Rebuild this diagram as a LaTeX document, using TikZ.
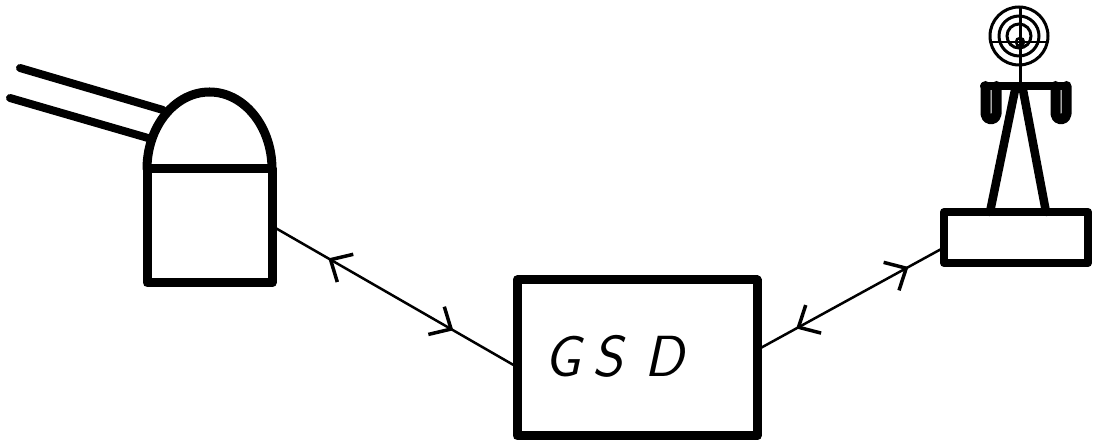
\documentclass[tikz,border=0pt]{standalone}
\usepackage{tikz}
\usetikzlibrary{math, calc, arrows.meta, decorations.markings}

\tikzset{
    heavy/.style={line width=9pt, line cap=round, line join=round},
    block/.style={draw, line width=9pt, line join=round, inner sep=0pt, outer sep=0pt},
    barb/.tip={Straight Barb[length=17pt, width=32pt, line width=3.5pt]},
    link/.style 2 args={line width=2.5pt, postaction={decorate},
        decoration={markings,
            mark=at position #1 with {\arrowreversed{barb}},
            mark=at position #2 with {\arrow{barb}}}},
}

\begin{document}
\begin{tikzpicture}[x=1pt, y=1pt]
    \tikzmath{
        \domerx=62.5;
        \domery=77;
        \barY=360;
    }
    \useasboundingbox (0, 0) rectangle (1093, 446);

    % telescope
    \draw [heavy, line width=8pt] (20, 378) -- (163, 336);
    \draw [heavy, line width=8pt] (10, 348) -- (148, 308);
    \draw [heavy, fill=white] (147, 277)
        arc [start angle=180, end angle=0, x radius=\domerx, y radius=\domery];
    \node [block, minimum width=125pt, minimum height=114pt] (telbody) at (209.5, 220) {};

    % ground station
    \node [block, minimum width=240pt, minimum height=156pt] (gsd) at (637, 88) {};
    \node [font=\fontsize{58}{58}\sffamily\slshape] (gsdlabel) at (614, 90) {G\hspace{12pt}S\hspace{22pt}D};

    % antenna
    \node [block, line width=8pt, minimum width=144pt, minimum height=51pt] (base) at (1016, 208.5) {};
    \draw [heavy, line width=8.5pt] (1015, \barY-4) -- (990, 234);
    \draw [heavy, line width=8.5pt] (1023, \barY-4) -- (1046, 234);
    \draw [heavy, line width=8pt] (984, \barY) -- (1066, \barY);
    \draw [heavy, line width=10pt] (985.5, \barY) -- (985.5, 332) arc [start angle=180, end angle=360, radius=5.5] -- (996.5, \barY);
    \draw [heavy, line width=10pt] (1055.5, \barY) -- (1055.5, 332) arc [start angle=180, end angle=360, radius=5.5] -- (1066.5, \barY);
    \draw [line width=3pt] (1020, \barY) -- (1020, 438);
    \foreach \r in {29, 20, 12} {
        \draw [line width=3pt] (1019, 410) circle [radius=\r];
    }
    \draw [line width=2.5pt] (1020, 404) circle [radius=4];
    \draw [line width=2.5pt] (990, 404) -- (1048, 404);

    % links
    \draw [link={0.23}{0.74}] (telbody.east) -- ($ (gsd.west) + (0, -9) $);
    \draw [link={0.21}{0.81}] ($ (gsd.east) + (0, 8) $) -- ($ (base.west) + (0, -10) $);
\end{tikzpicture}
\end{document}
